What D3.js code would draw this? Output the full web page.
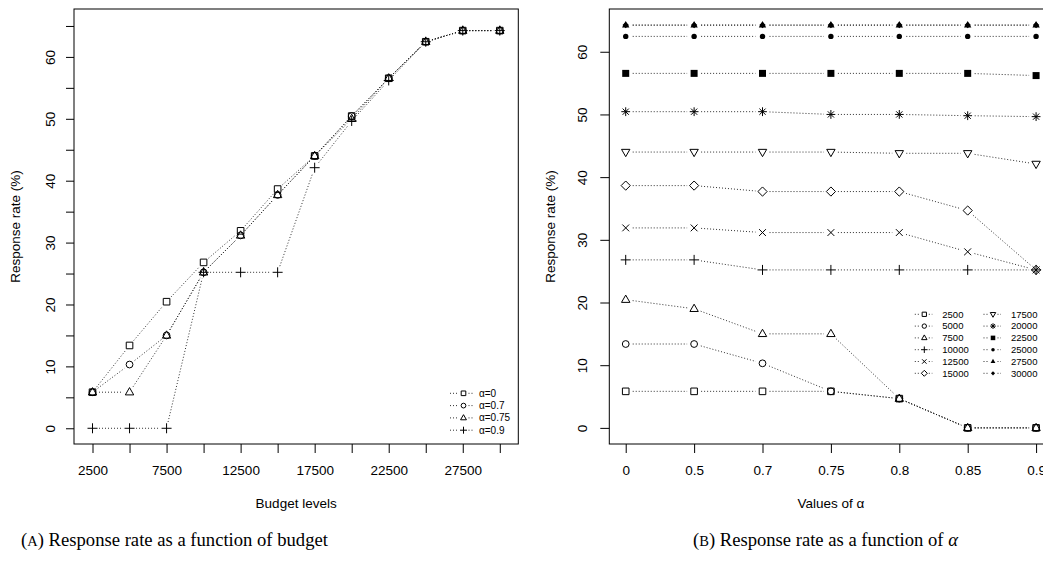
<!DOCTYPE html>
<html>
<head>
<meta charset="utf-8">
<script src="https://cdn.jsdelivr.net/npm/d3@7"></script>
<style>
  body { margin: 0; background: #fff; }
  svg { display: block; background: #fff; font-family: "Liberation Sans", Arial, Helvetica, sans-serif; }
</style>
</head>
<body>
<svg id="fig" width="1043" height="566"></svg>
<script>
// Budget levels (x of panel A, one series per level in panel B)
const budgets = [2500, 5000, 7500, 10000, 12500, 15000, 17500, 20000, 22500, 25000, 27500, 30000];
// Values of alpha (x of panel B)
const alphaLabels = ["0", "0.5", "0.7", "0.75", "0.8", "0.85", "0.9"];

// Response rate (%) per budget level, one array per alpha
const rateAlpha0   = [5.83, 13.38, 20.45, 26.8, 31.9, 38.65, 44.0, 50.44, 56.55, 62.45, 64.25, 64.25];
const rateAlpha05  = [5.83, 13.38, 19.0, 26.8, 31.9, 38.65, 44.0, 50.44, 56.55, 62.45, 64.25, 64.25];
const rateAlpha07  = [5.83, 10.3, 15.0, 25.2, 31.16, 37.7, 44.0, 50.44, 56.55, 62.45, 64.25, 64.25];
const rateAlpha075 = [5.83, 5.83, 15.0, 25.2, 31.16, 37.7, 44.0, 50.0, 56.55, 62.45, 64.25, 64.25];
const rateAlpha08  = [4.67, 4.67, 4.67, 25.2, 31.16, 37.7, 43.8, 50.0, 56.55, 62.45, 64.25, 64.25];
const rateAlpha085 = [0, 0, 0, 25.2, 28.09, 34.67, 43.8, 49.8, 56.55, 62.45, 64.25, 64.25];
const rateAlpha09  = [0, 0, 0, 25.2, 25.2, 25.2, 42.1, 49.65, 56.2, 62.45, 64.25, 64.25];

const ratesByAlpha = [rateAlpha0, rateAlpha05, rateAlpha07, rateAlpha075, rateAlpha08, rateAlpha085, rateAlpha09];

// Panel A series: selected alpha values
const panelAAlphas = ["0", "0.7", "0.75", "0.9"];
const panelALegend = ["α=0", "α=0.7", "α=0.75", "α=0.9"];
const panelAPch = [0, 1, 2, 3];
// Panel B symbols, one per budget level
const budgetPch = [0, 1, 2, 3, 4, 5, 6, 8, 15, 16, 17, 18];

const SANS = '"Liberation Sans", Arial, Helvetica, sans-serif';
const SERIF = '"Liberation Serif", "Times New Roman", serif';

const svg = d3.select("#fig");
svg.append("rect").attr("width", 1043).attr("height", 566).attr("fill", "#fff");

const LINE = { stroke: "#1a1a1a", width: 0.9, dash: "1,2" };

// R-style plotting symbols as path data
function symbolPath(pch, k) {
  const circ = r => `M${r},0A${r},${r} 0 1 1 ${-r},0A${r},${r} 0 1 1 ${r},0Z`;
  let h;
  switch (pch) {
    case 0: h = 3.3 * k; return { d: `M${-h},${-h}H${h}V${h}H${-h}Z`, fill: "none" };
    case 1: return { d: circ(3.4 * k), fill: "none" };
    case 2: return { d: `M0,${-4.6 * k}L${4.2 * k},${2.7 * k}L${-4.2 * k},${2.7 * k}Z`, fill: "none" };
    case 3: h = 5 * k; return { d: `M${-h},0H${h}M0,${-h}V${h}`, fill: "none" };
    case 4: h = 3.4 * k; return { d: `M${-h},${-h}L${h},${h}M${-h},${h}L${h},${-h}`, fill: "none" };
    case 5: h = 4.6 * k; return { d: `M0,${-h}L${h},0L0,${h}L${-h},0Z`, fill: "none" };
    case 6: return { d: `M0,${4.6 * k}L${4.2 * k},${-2.7 * k}L${-4.2 * k},${-2.7 * k}Z`, fill: "none" };
    case 8: {
      const a = 4.4 * k, b = 3.1 * k;
      return { d: `M${-a},0H${a}M0,${-a}V${a}M${-b},${-b}L${b},${b}M${-b},${b}L${b},${-b}`, fill: "none" };
    }
    case 15: h = 3.5 * k; return { d: `M${-h},${-h}H${h}V${h}H${-h}Z`, fill: "#000", filled: true };
    case 16: return { d: circ(2.7 * k), fill: "#000", filled: true };
    case 17: return { d: `M0,${-4.1 * k}L${3.7 * k},${2.4 * k}L${-3.7 * k},${2.4 * k}Z`, fill: "#000", filled: true };
    case 18: h = 3.2 * k; return { d: `M0,${-h}L${h},0L0,${h}L${-h},0Z`, fill: "#000", filled: true };
  }
}

function drawSymbol(g, x, y, pch, k) {
  const s = symbolPath(pch, k);
  g.append("path")
    .attr("d", s.d)
    .attr("transform", `translate(${x},${y})`)
    .attr("fill", s.fill)
    .attr("stroke", s.filled ? "none" : "#000")
    .attr("stroke-width", 1);
}

// Connecting segments leave a gap around each point
function drawGappedLine(g, pts, gap) {
  for (let i = 0; i < pts.length - 1; i++) {
    const [x1, y1] = pts[i], [x2, y2] = pts[i + 1];
    const dx = x2 - x1, dy = y2 - y1, d = Math.hypot(dx, dy);
    if (d <= 2 * gap) continue;
    const ux = dx / d, uy = dy / d;
    g.append("line")
      .attr("x1", x1 + ux * gap).attr("y1", y1 + uy * gap)
      .attr("x2", x2 - ux * gap).attr("y2", y2 - uy * gap)
      .attr("stroke", LINE.stroke).attr("stroke-width", LINE.width)
      .attr("stroke-dasharray", LINE.dash);
  }
}

function styleAxis(g) {
  g.select(".domain").remove();
  g.attr("font-family", SANS);
  g.selectAll(".tick line").attr("stroke", "#000").attr("stroke-width", 1);
  g.selectAll(".tick text").attr("font-size", 13.5).attr("fill", "#000");
}

function rotateYLabels(g, offset) {
  g.selectAll(".tick text")
    .attr("transform", "rotate(-90)")
    .attr("x", 0).attr("y", -offset).attr("dy", "0.35em")
    .attr("text-anchor", "middle");
}

// ---------------- Panel A: response rate vs budget ----------------
const A = { left: 74, right: 518.3, top: 9, bottom: 444 };
const xA = d3.scaleLinear().domain([1250, 31250]).range([A.left, A.right]);
const yA = d3.scaleLinear().domain([-2.54, 67.74]).range([A.bottom, A.top]);

const gA = svg.append("g");

const xAxisA = gA.append("g").attr("transform", `translate(0,${A.bottom})`)
  .call(d3.axisBottom(xA).tickValues(budgets).tickSize(9).tickPadding(0)
    .tickFormat((d, i) => i % 2 === 0 ? String(d) : ""));
styleAxis(xAxisA);
xAxisA.selectAll(".tick text").attr("y", 26.7).attr("dy", "0.35em");

const yAxisA = gA.append("g").attr("transform", `translate(${A.left},0)`)
  .call(d3.axisLeft(yA).tickValues(d3.range(0, 66, 5)).tickSize(8)
    .tickFormat(d => d % 10 === 0 ? String(d) : ""));
styleAxis(yAxisA);
rotateYLabels(yAxisA, 24);

gA.append("rect")
  .attr("x", A.left).attr("y", A.top)
  .attr("width", A.right - A.left).attr("height", A.bottom - A.top)
  .attr("fill", "none").attr("stroke", "#000").attr("stroke-width", 1);

panelAAlphas.forEach((a, si) => {
  const vals = ratesByAlpha[alphaLabels.indexOf(a)];
  const pts = budgets.map((b, i) => [xA(b), yA(vals[i])]);
  drawGappedLine(gA, pts, 6.5);
});
panelAAlphas.forEach((a, si) => {
  const vals = ratesByAlpha[alphaLabels.indexOf(a)];
  budgets.forEach((b, i) => drawSymbol(gA, xA(b), yA(vals[i]), panelAPch[si], 1));
});

gA.append("text").attr("x", (A.left + A.right) / 2).attr("y", 503).attr("dy", "0.35em")
  .attr("text-anchor", "middle").attr("font-size", 13.5).text("Budget levels");
gA.append("text").attr("transform", `translate(15.5,${(A.top + A.bottom) / 2}) rotate(-90)`)
  .attr("dy", "0.35em").attr("text-anchor", "middle").attr("font-size", 13.5)
  .text("Response rate (%)");

// legend A
const legA = gA.append("g");
panelALegend.forEach((lab, i) => {
  const cx = 463.5, cy = 393.3 + i * 12.3;
  [[cx - 13.5, cx - 5], [cx + 5, cx + 9.5]].forEach(([x1, x2]) =>
    legA.append("line").attr("x1", x1).attr("x2", x2).attr("y1", cy).attr("y2", cy)
      .attr("stroke", LINE.stroke).attr("stroke-width", LINE.width).attr("stroke-dasharray", LINE.dash));
  drawSymbol(legA, cx, cy, panelAPch[i], 0.7);
  legA.append("text").attr("x", 479).attr("y", cy).attr("dy", "0.35em")
    .attr("font-size", 10).text(lab);
});

// ---------------- Panel B: response rate vs alpha ----------------
const B = { left: 609.3, right: 1052.5, top: 9, bottom: 444 };
const xB = d3.scalePoint().domain(alphaLabels).range([B.left, B.right]).padding(0.24);
const yB = d3.scaleLinear().domain([-2.57, 66.82]).range([B.bottom, B.top]);

const gB = svg.append("g");

const xAxisB = gB.append("g").attr("transform", `translate(0,${B.bottom})`)
  .call(d3.axisBottom(xB).tickSize(9).tickPadding(0));
styleAxis(xAxisB);
xAxisB.selectAll(".tick text").attr("y", 26.7).attr("dy", "0.35em");

const yAxisB = gB.append("g").attr("transform", `translate(${B.left},0)`)
  .call(d3.axisLeft(yB).tickValues(d3.range(0, 61, 10)).tickSize(9));
styleAxis(yAxisB);
rotateYLabels(yAxisB, 27);

gB.append("rect")
  .attr("x", B.left).attr("y", B.top)
  .attr("width", B.right - B.left).attr("height", B.bottom - B.top)
  .attr("fill", "none").attr("stroke", "#000").attr("stroke-width", 1);

budgets.forEach((b, bi) => {
  const pts = alphaLabels.map((a, ai) => [xB(a), yB(ratesByAlpha[ai][bi])]);
  drawGappedLine(gB, pts, 7);
});
budgets.forEach((b, bi) => {
  alphaLabels.forEach((a, ai) => drawSymbol(gB, xB(a), yB(ratesByAlpha[ai][bi]), budgetPch[bi], 1));
});

const xTitleB = gB.append("text").attr("x", (B.left + B.right) / 2).attr("y", 503).attr("dy", "0.35em")
  .attr("text-anchor", "middle").attr("font-size", 13.5);
xTitleB.append("tspan").text("Values of ");
xTitleB.append("tspan").text("α");
gB.append("text").attr("transform", `translate(550,${(B.top + B.bottom) / 2}) rotate(-90)`)
  .attr("dy", "0.35em").attr("text-anchor", "middle").attr("font-size", 13.5)
  .text("Response rate (%)");

// legend B: two columns of six budget levels
const legB = gB.append("g");
budgets.forEach((b, i) => {
  const col = Math.floor(i / 6), row = i % 6;
  const cx = col === 0 ? 924.3 : 993, cy = 314.3 + row * 11.8;
  [[cx - 9.5, cx - 4.5], [cx + 4.5, cx + 8]].forEach(([x1, x2]) =>
    legB.append("line").attr("x1", x1).attr("x2", x2).attr("y1", cy).attr("y2", cy)
      .attr("stroke", LINE.stroke).attr("stroke-width", LINE.width).attr("stroke-dasharray", LINE.dash));
  drawSymbol(legB, cx, cy, budgetPch[i], 0.65);
  legB.append("text").attr("x", cx + 18).attr("y", cy).attr("dy", "0.35em")
    .attr("font-size", 9.5).text(String(b));
});

// ---------------- Sub-figure captions ----------------
function caption(cx, letter, body, italicTail, targetWidth) {
  const t = svg.append("text").attr("x", cx).attr("y", 546).attr("text-anchor", "middle")
    .style("font-family", SERIF).attr("font-size", 18);
  t.append("tspan").text("(");
  t.append("tspan").attr("font-size", "0.78em").text(letter);
  t.append("tspan").text(") " + body);
  if (italicTail) t.append("tspan").attr("font-style", "italic").text(italicTail);
  const w = t.node().getComputedTextLength();
  if (w > 0) t.attr("font-size", 18 * targetWidth / w);
}
caption(174.5, "A", "Response rate as a function of budget", null, 307);
caption(825.5, "B", "Response rate as a function of ", "α", 265);
</script>
</body>
</html>
